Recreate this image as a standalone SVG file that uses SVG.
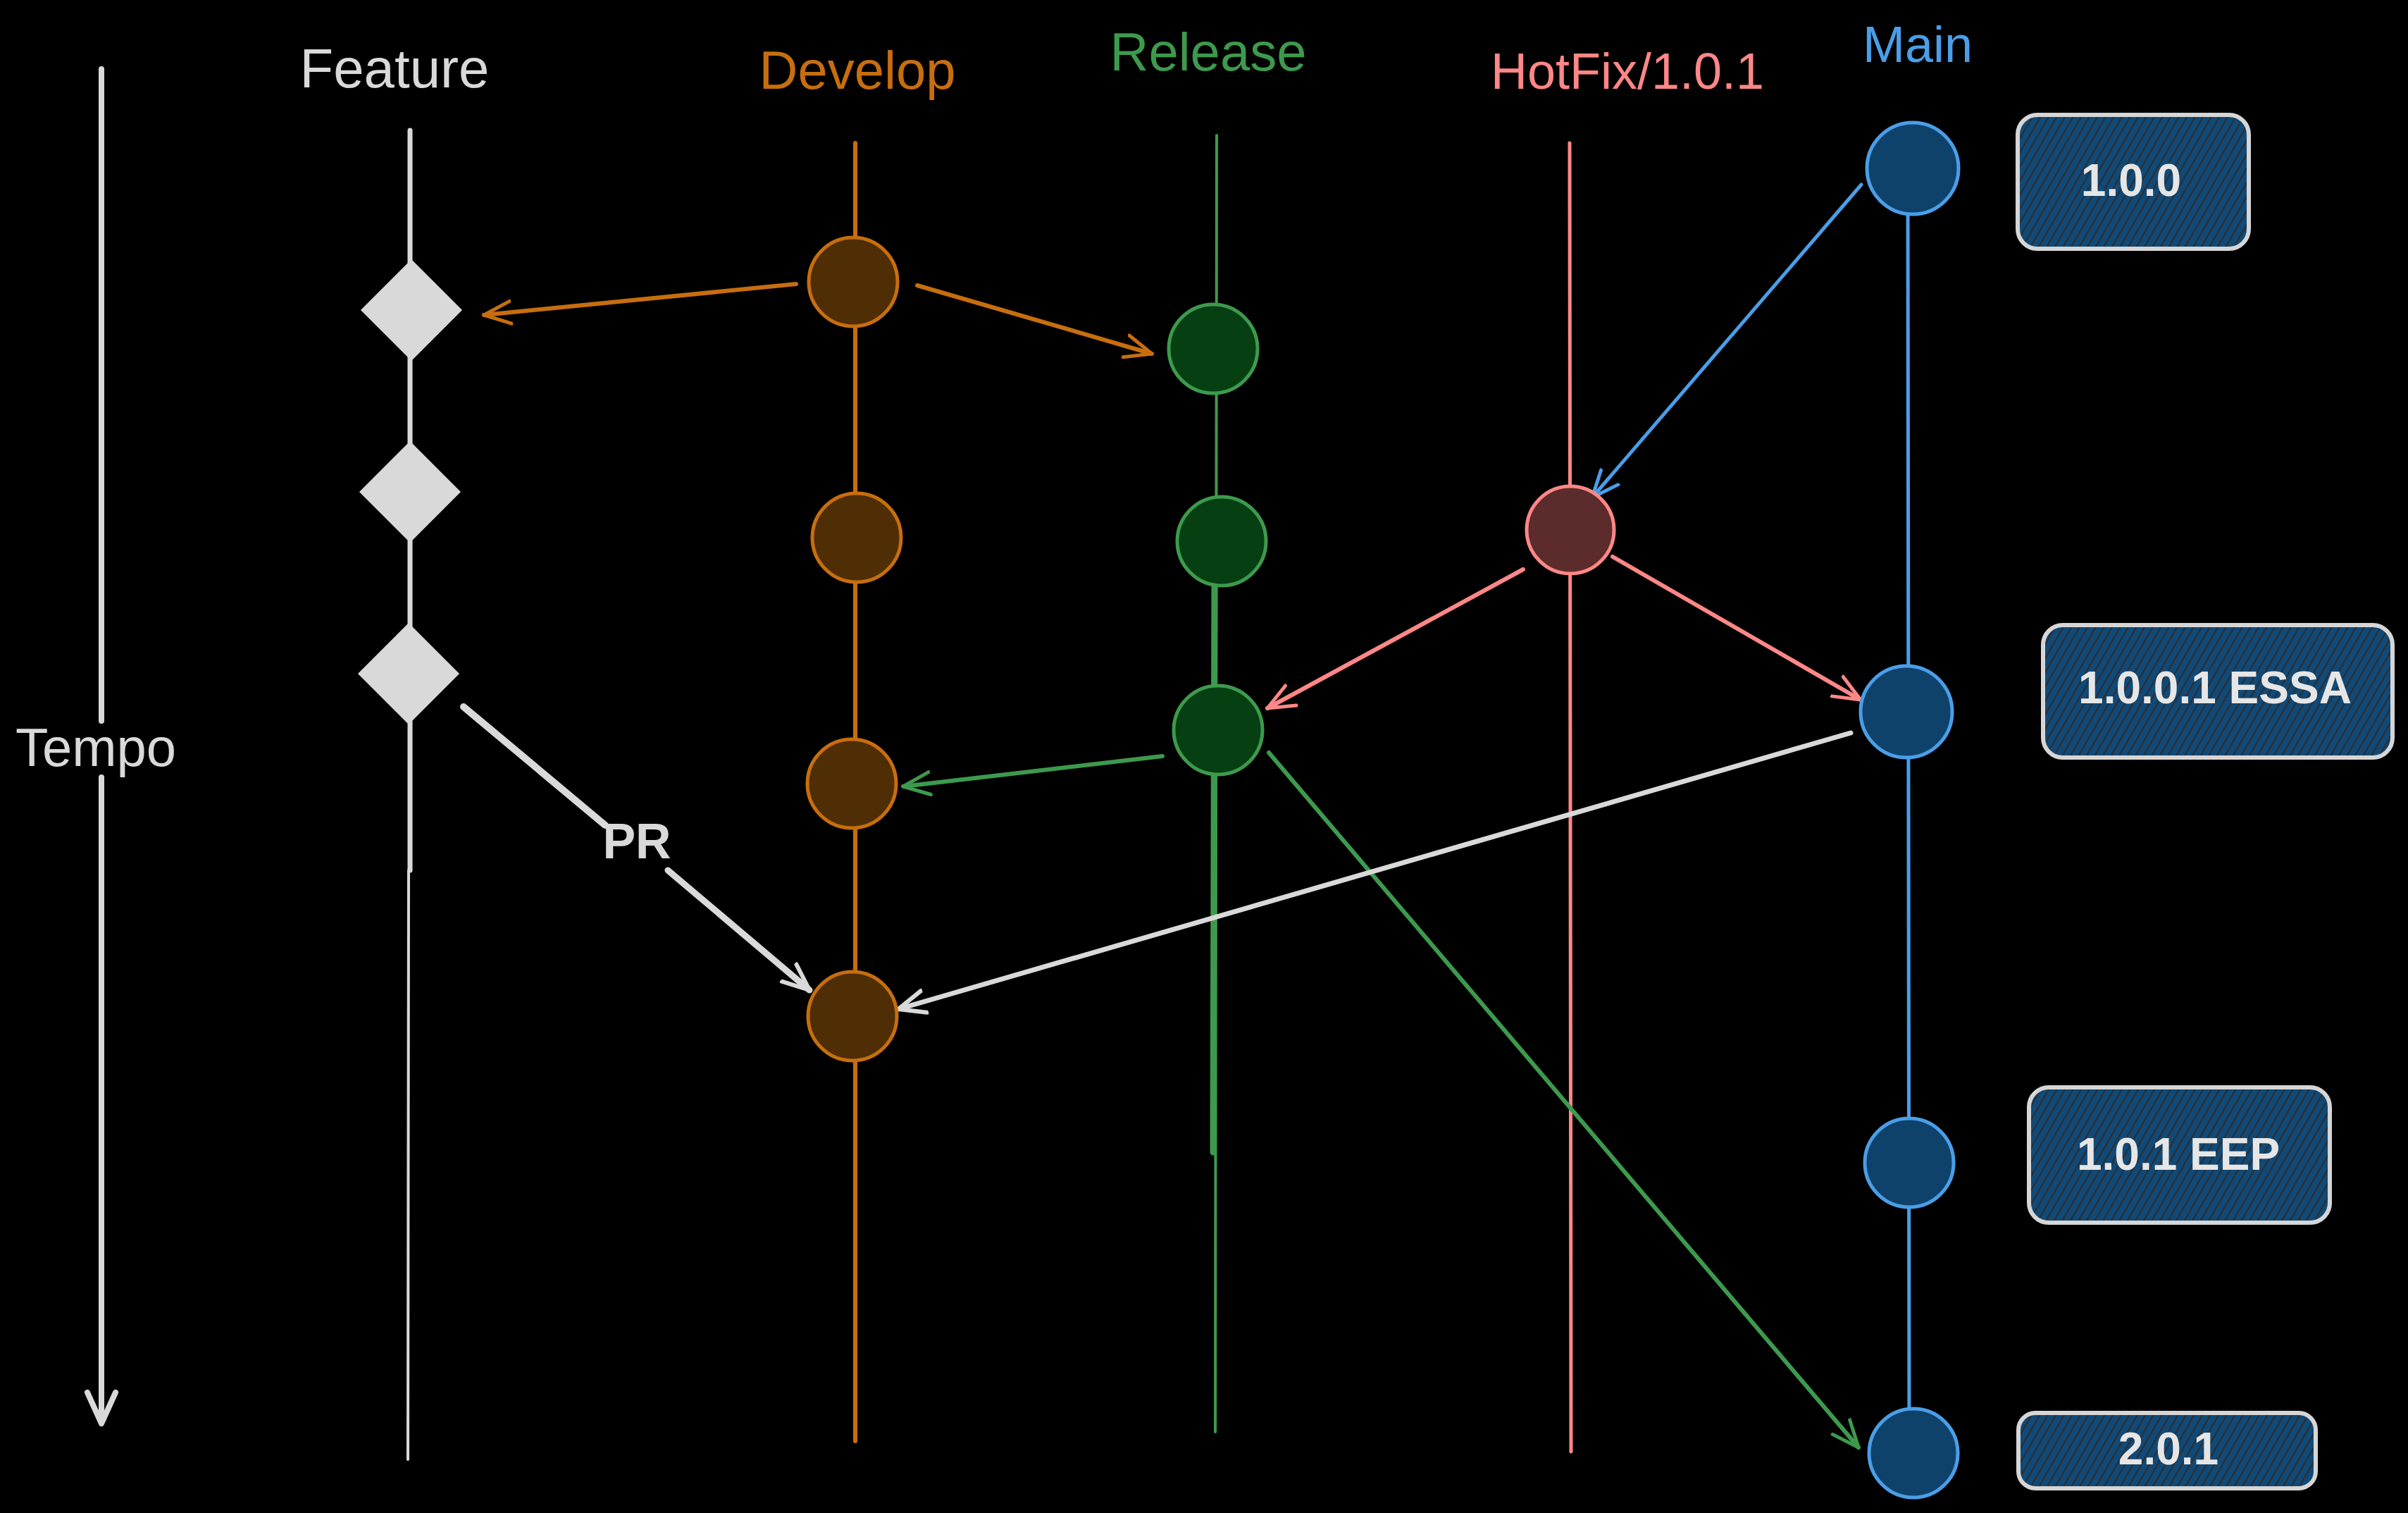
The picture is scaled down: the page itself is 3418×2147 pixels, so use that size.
<svg xmlns="http://www.w3.org/2000/svg" width="3418" height="2147" viewBox="0 0 3418 2147">
<style>
  .lbl { font-family: "Liberation Sans", "DejaVu Sans", sans-serif; text-anchor: middle; }
  .gray { fill: #d9d9d9; }
  .lane { fill: none; stroke-linecap: round; }
  .dev { fill: #4f2e06; stroke: #c76e0e; stroke-width: 5; }
  .rel { fill: #053f12; stroke: #3d9a4d; stroke-width: 5; }
  .hot { fill: #5c2b2b; stroke: #ff8787; stroke-width: 5; }
  .mainn { fill: #0f426b; stroke: #4a9ee8; stroke-width: 5; }
  .tag rect { fill: url(#hatch); stroke: #d6d6d6; stroke-width: 6; }
  .tag text { fill: #e6e6e6; font-family: "Liberation Sans", "DejaVu Sans", sans-serif; text-anchor: middle; font-size: 64px; font-weight: bold; }
  .arr { fill: none; stroke-linecap: round; stroke-linejoin: round; }
</style>
<defs>
  <pattern id="hatch" patternUnits="userSpaceOnUse" width="10" height="10" patternTransform="rotate(30)">
    <rect width="10" height="10" fill="#0f4a78"/>
    <line x1="0" y1="0" x2="0" y2="10" stroke="#2a3038" stroke-width="5"/>
  </pattern>
  <marker id="mOr" markerUnits="userSpaceOnUse" markerWidth="60" markerHeight="60" refX="40" refY="20" orient="auto"><path d="M2,4 L40,20 L2,36" fill="none" stroke="#c76e0e" stroke-width="5" stroke-linecap="round" stroke-linejoin="round"/></marker>
  <marker id="mGr" markerUnits="userSpaceOnUse" markerWidth="60" markerHeight="60" refX="40" refY="20" orient="auto"><path d="M2,4 L40,20 L2,36" fill="none" stroke="#3d9a4d" stroke-width="5" stroke-linecap="round" stroke-linejoin="round"/></marker>
  <marker id="mPk" markerUnits="userSpaceOnUse" markerWidth="60" markerHeight="60" refX="40" refY="20" orient="auto"><path d="M2,4 L40,20 L2,36" fill="none" stroke="#ff8787" stroke-width="5" stroke-linecap="round" stroke-linejoin="round"/></marker>
  <marker id="mBl" markerUnits="userSpaceOnUse" markerWidth="60" markerHeight="60" refX="40" refY="20" orient="auto"><path d="M2,4 L40,20 L2,36" fill="none" stroke="#4a9ee8" stroke-width="5" stroke-linecap="round" stroke-linejoin="round"/></marker>
  <marker id="mGy" markerUnits="userSpaceOnUse" markerWidth="60" markerHeight="60" refX="40" refY="20" orient="auto"><path d="M2,4 L40,20 L2,36" fill="none" stroke="#d9d9d9" stroke-width="6" stroke-linecap="round" stroke-linejoin="round"/></marker>
</defs>
<rect width="3418" height="2147" fill="#000000"/>

<g id="lanes">
  <line class="lane" x1="582" y1="185" x2="582" y2="1235" stroke="#d9d9d9" stroke-width="7"/>
  <line class="lane" x1="580" y1="1235" x2="579" y2="2071" stroke="#d9d9d9" stroke-width="4"/>
  <line class="lane" x1="1214" y1="203" x2="1214" y2="2045" stroke="#c76e0e" stroke-width="6"/>
  <line class="lane" x1="1727" y1="192" x2="1725" y2="2032" stroke="#3d9a4d" stroke-width="4"/>
  <line class="lane" x1="1724" y1="818" x2="1722" y2="1635" stroke="#3d9a4d" stroke-width="9"/>
  <line class="lane" x1="2228" y1="203" x2="2230" y2="2060" stroke="#ff8787" stroke-width="5"/>
  <line class="lane" x1="2708" y1="240" x2="2710" y2="2062" stroke="#4a9ee8" stroke-width="5"/>
</g>

<g id="tempo">
  <line class="lane" x1="144" y1="98" x2="144" y2="1023" stroke="#d9d9d9" stroke-width="8"/>
  <line class="lane" x1="144" y1="1103" x2="144" y2="2018" stroke="#d9d9d9" stroke-width="8"/>
  <path d="M124,1976 L144,2020 L164,1976" fill="none" stroke="#d9d9d9" stroke-width="8" stroke-linecap="round" stroke-linejoin="round"/>
  <text class="lbl gray" x="136" y="1087" font-size="76">Tempo</text>
</g>

<g id="headers">
  <text class="lbl gray" x="560" y="124" font-size="78">Feature</text>
  <text class="lbl" x="1217" y="126" font-size="76" fill="#c76e0e">Develop</text>
  <text class="lbl" x="1715" y="100" font-size="76" fill="#3d9a4d">Release</text>
  <text class="lbl" x="2310" y="126" font-size="72" fill="#ff8787">HotFix/1.0.1</text>
  <text class="lbl" x="2722" y="88" font-size="72" fill="#4a9ee8">Main</text>
</g>

<g id="connectors">
  <line class="arr" x1="1130" y1="403" x2="687" y2="447" stroke="#c76e0e" stroke-width="6" marker-end="url(#mOr)"/>
  <line class="arr" x1="1302" y1="405" x2="1635" y2="502" stroke="#c76e0e" stroke-width="6" marker-end="url(#mOr)"/>
  <line class="arr" x1="2642" y1="262" x2="2260" y2="706" stroke="#4a9ee8" stroke-width="5" marker-end="url(#mBl)"/>
  <line class="arr" x1="2162" y1="808" x2="1799" y2="1005" stroke="#ff8787" stroke-width="6" marker-end="url(#mPk)"/>
  <line class="arr" x1="2289" y1="790" x2="2641" y2="993" stroke="#ff8787" stroke-width="6" marker-end="url(#mPk)"/>
  <line class="arr" x1="1650" y1="1073" x2="1282" y2="1116" stroke="#3d9a4d" stroke-width="6" marker-end="url(#mGr)"/>
  <line class="arr" x1="1801" y1="1068" x2="2638" y2="2054" stroke="#3d9a4d" stroke-width="6" marker-end="url(#mGr)"/>
  <line class="arr" x1="2627" y1="1040" x2="1275" y2="1432" stroke="#d9d9d9" stroke-width="7" marker-end="url(#mGy)"/>
  <line class="arr" x1="658" y1="1003" x2="859" y2="1171" stroke="#d9d9d9" stroke-width="10"/>
  <line class="arr" x1="948" y1="1235" x2="1149" y2="1405" stroke="#d9d9d9" stroke-width="9" marker-end="url(#mGy)"/>
  <text class="lbl gray" x="904" y="1218" font-size="70" font-weight="bold">PR</text>
</g>

<g id="feature-1"><polygon points="584,368 656,440 584,512 512,440" fill="#d9d9d9"/></g>
<g id="feature-2"><polygon points="582,626 654,698 582,770 510,698" fill="#d9d9d9"/></g>
<g id="feature-3"><polygon points="580,884 652,956 580,1028 508,956" fill="#d9d9d9"/></g>

<g id="develop-1"><circle class="dev" cx="1211" cy="400" r="63"/></g>
<g id="develop-2"><circle class="dev" cx="1216" cy="763" r="63"/></g>
<g id="develop-3"><circle class="dev" cx="1209" cy="1112" r="63"/></g>
<g id="develop-4"><circle class="dev" cx="1210" cy="1442" r="63"/></g>

<g id="release-1"><circle class="rel" cx="1722" cy="495" r="63"/></g>
<g id="release-2"><circle class="rel" cx="1734" cy="768" r="63"/></g>
<g id="release-3"><circle class="rel" cx="1729" cy="1036" r="63"/></g>

<g id="hotfix-1"><circle class="hot" cx="2229" cy="752" r="62"/></g>

<g id="main-1"><circle class="mainn" cx="2715" cy="239" r="65"/></g>
<g id="main-2"><circle class="mainn" cx="2706" cy="1010" r="65"/></g>
<g id="main-3"><circle class="mainn" cx="2710" cy="1650" r="63"/></g>
<g id="main-4"><circle class="mainn" cx="2716" cy="2062" r="63"/></g>

<g id="tag-100" class="tag"><rect x="2864" y="163" width="328" height="190" rx="28"/><text x="3025" y="278">1.0.0</text></g>
<g id="tag-1001" class="tag"><rect x="2900" y="887" width="496" height="188" rx="28"/><text x="3144" y="998">1.0.0.1 ESSA</text></g>
<g id="tag-101" class="tag"><rect x="2880" y="1543" width="427" height="192" rx="28"/><text x="3092" y="1660">1.0.1 EEP</text></g>
<g id="tag-201" class="tag"><rect x="2865" y="2005" width="422" height="107" rx="24"/><text x="3078" y="2078">2.0.1</text></g>
</svg>
